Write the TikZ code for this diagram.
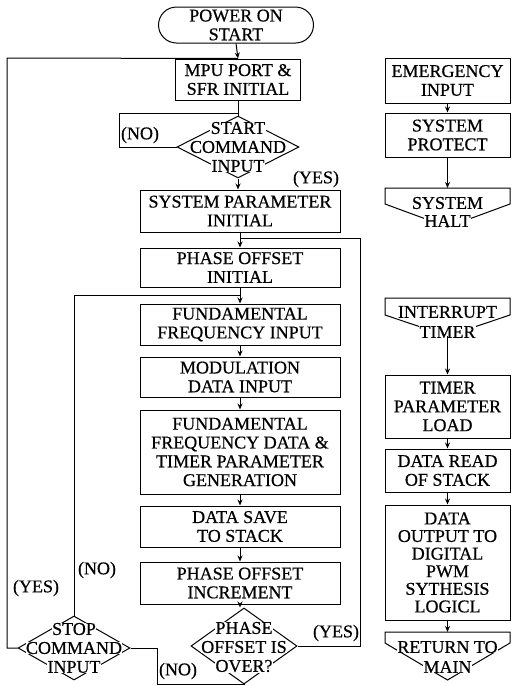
\documentclass[tikz,border=0pt]{standalone}
\usepackage{fontspec}
\setmainfont{Liberation Serif}[FakeBold=0.5]
\usetikzlibrary{arrows.meta,shapes.geometric,shapes.misc}
\begin{document}
\begin{tikzpicture}[x=1pt,y=-1pt,
  txt/.style={font=\fontsize{18}{18.8}\selectfont},
  ln/.style={line width=1pt},
  arr/.style={ln,-{Stealth[length=6pt,width=5pt]}},
  box/.style={txt,draw,line width=1pt,align=center,inner sep=0pt,minimum width=200pt},
  rbox/.style={box,minimum width=125pt},
  term/.style={txt,draw,line width=1pt,rounded rectangle,align=center,inner sep=0pt},
  dia/.style={draw,line width=1pt,diamond,inner sep=0pt},
  dt/.style={txt,fill=white,inner sep=0.4pt},
  lab/.style={txt,inner sep=0pt}]
\fill[white] (0,0) rectangle (512,686);
\useasboundingbox (0,0) rectangle (512,686);

% ---------- main column ----------
\node[term,minimum width=155pt,minimum height=36pt] (start) at (236,25) {POWER ON\\START};
\node[box,minimum width=125pt,minimum height=41pt] (mpu) at (238,79.5) {MPU PORT \&\\SFR INITIAL};

\node[dia,minimum width=122pt,minimum height=62pt] (sq) at (238,147) {};
\node[dt] (sq1) at (238,128) {START};
\node[dt] (sq2) at (238,147) {COMMAND};
\node[dt] (sq3) at (238,166) {INPUT};

\node[box,minimum height=42pt] (spi) at (240,211) {SYSTEM PARAMETER\\INITIAL};
\node[box,minimum height=39pt] (poi) at (240,267.5) {PHASE OFFSET\\INITIAL};
\node[box,minimum height=41pt] (ffi) at (240,324.5) {FUNDAMENTAL\\FREQUENCY INPUT};
\node[box,minimum height=40pt] (mdi) at (240,377) {MODULATION\\DATA INPUT};
\node[box,minimum height=84pt] (ffd) at (240,452) {FUNDAMENTAL\\FREQUENCY DATA \&\\TIMER PARAMETER\\GENERATION};
\node[box,minimum height=41pt] (dss) at (240,526.5) {DATA SAVE\\TO STACK};
\node[box,minimum height=42pt] (pinc) at (240,583) {PHASE OFFSET\\INCREMENT};

\node[dia,minimum width=106pt,minimum height=76pt] (poq) at (244,646) {};
\node[dt] (poq1) at (244,628) {PHASE};
\node[dt] (poq2) at (244,647) {OFFSET IS};
\node[dt] (poq3) at (244,666) {OVER?};

\node[dia,minimum width=112pt,minimum height=64pt] (stq) at (74,648) {};
\node[dt] (stq1) at (74,629) {STOP};
\node[dt] (stq2) at (74,648) {COMMAND};
\node[dt] (stq3) at (74,667) {INPUT};

% junction points
\coordinate (j1) at (238,113);
\coordinate (nol) at (119,113);
\coordinate (yl) at (7,58);
\coordinate (j2) at (240,238);
\coordinate (rl) at (360,238);
\coordinate (j3) at (240,295);
\coordinate (b1) at (157,684);

% main connectors
\draw[arr] (start.south) -- (mpu.north);
\draw[ln] (mpu.south) -- (sq.north);
\draw[arr] (sq.south) -- (sq.south |- spi.north);
\draw[arr] (spi) -- (poi);
\draw[arr] (poi) -- (ffi);
\draw[arr] (ffi) -- (mdi);
\draw[arr] (mdi) -- (ffd);
\draw[arr] (ffd) -- (dss);
\draw[arr] (dss) -- (pinc);
\draw[arr] (pinc.south) -- (pinc.south |- poq.north);

% loops
\draw[ln] (sq.west) -| (nol) -- (j1);
\draw[ln] (stq.west) -| (yl) -- (mpu.north);
\draw[ln] (poq.east) -| (rl) -- (j2);
\draw[ln] (stq.north) |- (j3);
\draw[ln] (stq.east) -| (b1) -- (b1 -| poq.south) -- (poq.south);

% labels
\node[lab] (l1) at (140,135) {(NO)};
\node[lab] (l2) at (316,179) {(YES)};
\node[lab] (l3) at (97,570) {(NO)};
\node[lab] (l4) at (36,588) {(YES)};
\node[lab] (l5) at (336,633) {(YES)};
\node[lab] (l6) at (178,671) {(NO)};

% ---------- right column ----------
\node[rbox,minimum height=45pt] (emg) at (447.5,80.5) {EMERGENCY\\INPUT};
\node[rbox,minimum height=44pt] (prot) at (447.5,135) {SYSTEM\\PROTECT};
\coordinate (halt) at (447.5,188);
\draw[ln] (385,188) -- (385,204) -- (447.5,227) -- (510,204) -- (510,188) -- cycle;
\node[dt] (halt1) at (447.5,203) {SYSTEM};
\node[dt] (halt2) at (447.5,221) {HALT};
\draw[arr] (emg) -- (prot);
\draw[arr] (prot.south) -- (halt);

\coordinate (intp) at (447.5,336);
\draw[ln] (385,298) -- (385,315) -- (intp) -- (510,315) -- (510,298) -- cycle;
\node[dt] (int1) at (447.5,312) {INTERRUPT};
\node[dt] (int2) at (447.5,332) {TIMER};

\node[rbox,minimum height=63pt] (tpl) at (447.5,406.5) {TIMER\\PARAMETER\\LOAD};
\node[rbox,minimum height=43pt] (drs) at (447.5,470.5) {DATA READ\\OF STACK};
\node[rbox,minimum height=115pt,font=\fontsize{18}{17.6}\selectfont] (dout) at (447.5,562.5) {DATA\\OUTPUT TO\\DIGITAL\\PWM\\SYTHESIS\\LOGICL};
\coordinate (ret) at (447.5,632);
\draw[ln] (385,632) -- (385,643) -- (447.5,680) -- (510,643) -- (510,632) -- cycle;
\node[dt] (ret1) at (447.5,647) {RETURN TO};
\node[dt] (ret2) at (447.5,667) {MAIN};

\draw[arr] (intp) -- (tpl.north);
\draw[arr] (tpl) -- (drs);
\draw[arr] (drs) -- (dout);
\draw[arr] (dout.south) -- (ret);
\end{tikzpicture}
\end{document}
